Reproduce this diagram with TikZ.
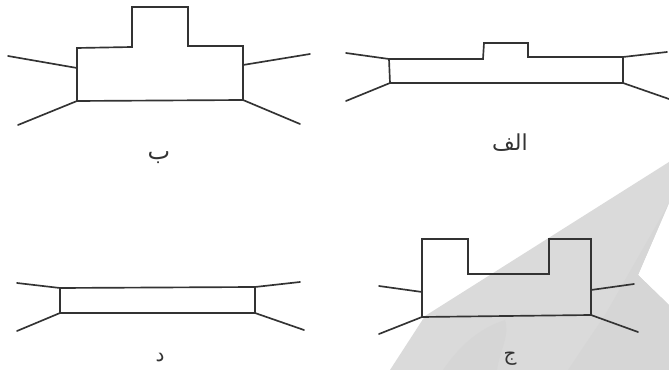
\documentclass[tikz,border=0pt]{standalone}
\usepackage{fontspec}
\newfontfamily\arabicfont[Script=Arabic]{DejaVu Sans}
\TeXXeTstate=1
\definecolor{wm}{gray}{0.855}
\definecolor{wmd}{gray}{0.84}
\definecolor{ink}{gray}{0.2}
\tikzset{
  outline/.style={draw=ink,line width=1.25pt,line join=miter},
  wing/.style={draw=ink,line width=1.25pt,line cap=round},
  lbl/.style={text=ink,inner sep=0pt,font=\arabicfont\fontsize{15}{17}\selectfont}
}
\begin{document}
\begin{tikzpicture}[x=0.75pt,y=-0.75pt]
\useasboundingbox (0,0) rectangle (669,370);
\fill[wm] (390,370) -- (425,316) -- (669,162) -- (669,203) -- (638,275) -- (669,305) -- (669,370) -- cycle;
\fill[wmd] (443,370) .. controls (460,345) and (480,328) .. (505,320) .. controls (510,335) and (500,350) .. (497,370) -- cycle;
\fill[wmd] (568,370) -- (605,315) -- (669,203) -- (638,275) -- (669,305) -- (669,370) -- cycle;
% b
\coordinate (b1) at (77,101); \coordinate (b2) at (77,48); \coordinate (b3) at (132,47);
\coordinate (b4) at (132,7); \coordinate (b5) at (188,7); \coordinate (b6) at (188,46);
\coordinate (b7) at (243,46); \coordinate (b8) at (243,100);
\coordinate (bl1) at (77,68); \coordinate (br1) at (243,65);
\draw[outline] (b1)--(b2)--(b3)--(b4)--(b5)--(b6)--(b7)--(b8)--cycle;
\coordinate (ba) at (8,56); \coordinate (bb) at (18,125); \coordinate (bc) at (310,54); \coordinate (bd) at (300,124);
\draw[wing] (ba)--(bl1); \draw[wing] (bb)--(b1); \draw[wing] (bc)--(br1); \draw[wing] (bd)--(b8);
\node[lbl,font=\arabicfont\fontsize{18}{20}\selectfont] (lb) at (159,158) {\beginR ب\endR};
% alef
\coordinate (a1) at (390,83); \coordinate (a2) at (389,59); \coordinate (a3) at (483,59);
\coordinate (a4) at (484,43); \coordinate (a5) at (528,43); \coordinate (a6) at (528,57);
\coordinate (a7) at (623,57); \coordinate (a8) at (623,83);
\draw[outline] (a1)--(a2)--(a3)--(a4)--(a5)--(a6)--(a7)--(a8)--cycle;
\coordinate (aa) at (346,53); \coordinate (ab) at (346,101); \coordinate (ac) at (667,52); \coordinate (ad) at (669,99);
\draw[wing] (aa)--(a2); \draw[wing] (ab)--(a1); \draw[wing] (ac)--(a7); \draw[wing] (ad)--(a8);
\node[lbl,font=\arabicfont\fontsize{16.5}{18}\selectfont] (la) at (510,143) {\beginR الف\endR};
% dal
\coordinate (d1) at (60,313); \coordinate (d2) at (60,288); \coordinate (d3) at (255,287); \coordinate (d4) at (255,313);
\draw[outline] (d1)--(d2)--(d3)--(d4)--cycle;
\coordinate (da) at (17,283); \coordinate (db) at (17,331); \coordinate (dc) at (300,282); \coordinate (dd) at (304,330);
\draw[wing] (da)--(d2); \draw[wing] (db)--(d1); \draw[wing] (dc)--(d3); \draw[wing] (dd)--(d4);
\node[lbl] (ld) at (160,358) {\beginR د\endR};
% jim
\coordinate (j1) at (422,317); \coordinate (j2) at (422,239); \coordinate (j3) at (468,239);
\coordinate (j4) at (468,274); \coordinate (j5) at (549,274); \coordinate (j6) at (549,239);
\coordinate (j7) at (591,239); \coordinate (j8) at (591,315);
\coordinate (jl1) at (422,292); \coordinate (jr1) at (591,290);
\draw[outline] (j1)--(j2)--(j3)--(j4)--(j5)--(j6)--(j7)--(j8)--cycle;
\coordinate (ja) at (379,286); \coordinate (jb) at (379,334); \coordinate (jc) at (634,284); \coordinate (jd) at (638,332);
\draw[wing] (ja)--(jl1); \draw[wing] (jb)--(j1); \draw[wing] (jc)--(jr1); \draw[wing] (jd)--(j8);
\node[lbl] (lj) at (510,359) {\beginR ج\endR};
\end{tikzpicture}
\end{document}
